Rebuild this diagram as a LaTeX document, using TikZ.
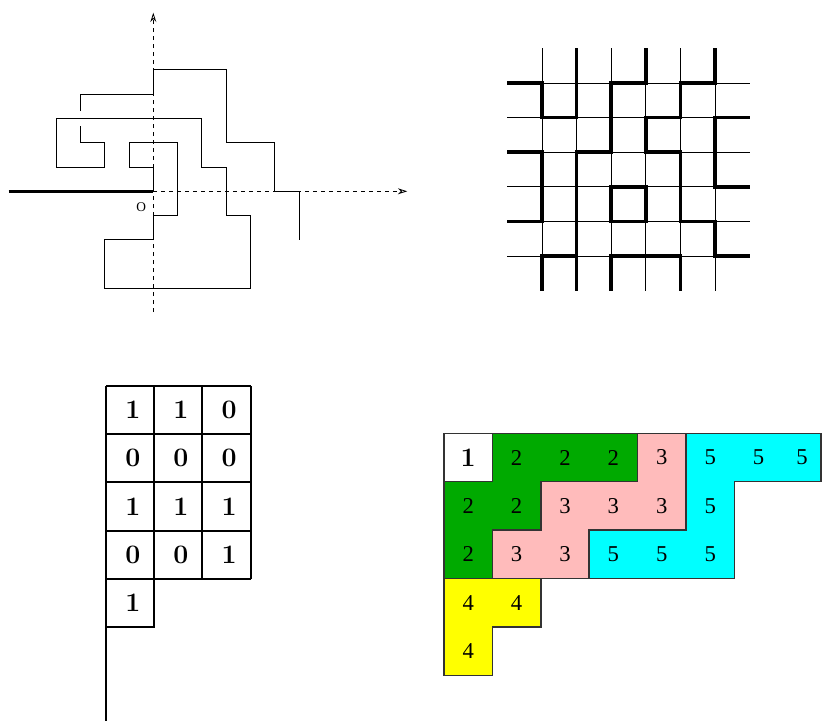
\documentclass[tikz,border=0pt]{standalone}
\usepackage{fontspec}
\newfontfamily\tms{Liberation Serif}
\usetikzlibrary{arrows.meta}
\definecolor{regiongreen}{RGB}{0,170,0}
\definecolor{regionpink}{RGB}{255,187,187}
\definecolor{regioncyan}{RGB}{0,255,255}
\definecolor{regionyellow}{RGB}{255,255,0}
\tikzstyle{axis} = [dashed, line width=0.6pt, -{Stealth[open,length=7pt,width=4.5pt]}]
\tikzstyle{walk} = [line width=0.75pt]
\tikzstyle{tail} = [line width=1.9pt]
\tikzstyle{cut} = [line width=2.6pt]
\tikzstyle{cell} = [line width=1.5pt]
\tikzstyle{region} = [draw=black!80, line width=1.1pt]
\tikzstyle{bit} = [font=\fontsize{20}{24}\selectfont\bfseries, xshift=2pt]
\tikzstyle{lab} = [font=\tms\fontsize{17}{20}\selectfont]

\begin{document}
\begin{tikzpicture}[x=0.75pt,y=0.75pt]
\useasboundingbox (0,0) rectangle (822,-721);

% the walk
\begin{scope}[shift={(153.3,-191.3)}, scale=24.3]
    \draw[axis] (0,-4.97) -- (0,7.35);
    \draw[axis] (0,0) -- (10.45,0);
    \draw[tail] (-5.95,0) -- (0,0);
    \node[font=\tms\fontsize{10}{12}\selectfont] (o) at (-0.5,-0.66) {O};
    \draw[walk] (0,0) -- (0,1) -- (-1,1) -- (-1,2) -- (1,2) -- (1,-1) -- (0,-1)
        -- (0,-2) -- (-2,-2) -- (-2,-4) -- (4,-4) -- (4,-1) -- (3,-1) -- (3,1)
        -- (2,1) -- (2,3) -- (-4,3) -- (-4,1) -- (-2,1) -- (-2,2) -- (-3,2) -- (-3,2.7);
    \draw[walk] (-3,3.3) -- (-3,4) -- (0,4) -- (0,5) -- (3,5) -- (3,2) -- (5,2)
        -- (5,0) -- (6,0) -- (6,-2);
\end{scope}

% the grid with the cut
\begin{scope}[shift={(507.3,-290.7)}, scale=34.63]
\foreach \i in {1,...,6} {
    \draw[line width=0.6pt] (\i,0) -- (\i,7);
    \draw[line width=0.6pt] (0,\i) -- (7,\i);
}
    \draw[cut] (0,6) -- (1,6) -- (1,5) -- (2,5) -- (2,7);
    \draw[cut] (4,7) -- (4,6) -- (3,6) -- (3,4) -- (2,4) -- (2,0);
    \draw[cut] (6,7) -- (6,6) -- (5,6) -- (5,5) -- (4,5) -- (4,4) -- (5,4)
        -- (5,2) -- (6,2) -- (6,1) -- (7,1);
    \draw[cut] (7,5) -- (6,5) -- (6,3) -- (7,3);
    \draw[cut] (0,4) -- (1,4) -- (1,2) -- (0,2);
    \draw[cut] (3,3) -- (4,3) -- (4,2) -- (3,2) -- cycle;
    \draw[cut] (1,0) -- (1,1) -- (2,1);
    \draw[cut] (3,0) -- (3,1) -- (5,1) -- (5,0);
\end{scope}

% the table of bits
\begin{scope}[shift={(106,-386)}, scale=48.2]
\foreach \i in {0,...,4}
    \draw[cell] (0,-\i) -- (3,-\i);
\foreach \i in {1,...,3}
    \draw[cell] (\i,0) -- (\i,-4);
    \draw[cell] (0,-4) rectangle (1,-5);
    \draw[cell] (0,0) -- (0,-6.95);
\foreach \c/\r/\v in {0/0/1, 1/0/1, 2/0/0, 0/1/0, 1/1/0, 2/1/0,
                      0/2/1, 1/2/1, 2/2/1, 0/3/0, 1/3/0, 2/3/1, 0/4/1} {
    \node[bit] (b-\c-\r) at (\c+0.5,-\r-0.5) {\v};
}
\end{scope}

% the coloured regions
\begin{scope}[shift={(444,-433.3)}, scale=48.4]
    \fill[white, region] (0,0) rectangle (1,-1);
    \fill[regiongreen, region] (1,0) -- (4,0) -- (4,-1) -- (2,-1) -- (2,-2) -- (1,-2)
        -- (1,-3) -- (0,-3) -- (0,-1) -- (1,-1) -- cycle;
    \fill[regionpink, region] (4,0) -- (5,0) -- (5,-2) -- (3,-2) -- (3,-3) -- (1,-3)
        -- (1,-2) -- (2,-2) -- (2,-1) -- (4,-1) -- cycle;
    \fill[regioncyan, region] (5,0) -- (7.79,0) -- (7.79,-1) -- (6,-1) -- (6,-3)
        -- (3,-3) -- (3,-2) -- (5,-2) -- cycle;
    \fill[regionyellow, region] (0,-3) -- (2,-3) -- (2,-4) -- (1,-4) -- (1,-5)
        -- (0,-5) -- cycle;
    \node[font=\fontsize{20}{24}\selectfont\bfseries] (one) at (0.5,-0.5) {1};
\foreach \c/\r/\v in {1/0/2, 2/0/2, 3/0/2, 4/0/3, 5/0/5, 6/0/5, 6.9/0/5,
                      0/1/2, 1/1/2, 2/1/3, 3/1/3, 4/1/3, 5/1/5,
                      0/2/2, 1/2/3, 2/2/3, 3/2/5, 4/2/5, 5/2/5,
                      0/3/4, 1/3/4, 0/4/4} {
    \node[lab] (r-\c-\r) at (\c+0.5,-\r-0.5) {\v};
}
\end{scope}
\end{tikzpicture}
\end{document}
